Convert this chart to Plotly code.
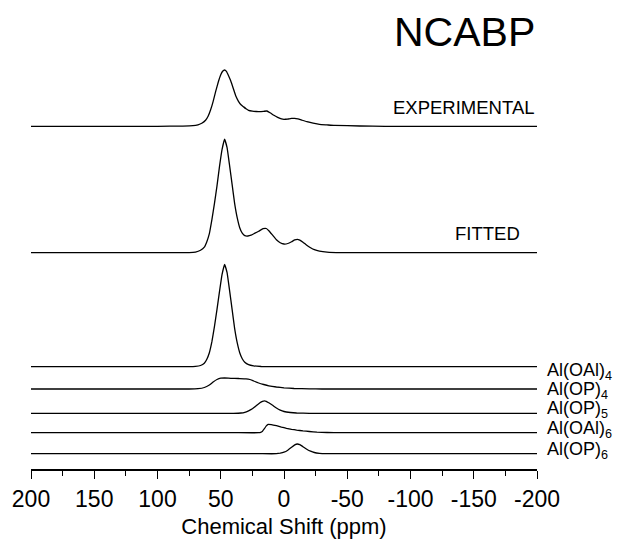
import plotly.graph_objects as go

# ---- data (ppm, intensity in arbitrary units) ----
exp_ppm = [200, 100, 80, 72, 68, 65, 62, 60, 58, 56, 54, 52, 50, 48.5, 47, 45.5, 44, 42, 40, 38, 36, 34, 32, 30, 28, 25, 22, 19, 16, 13.5, 11, 8, 5, 2, 0, -3, -6, -8.5, -11, -14, -18, -23, -28, -34, -40, -60, -80, -200]
exp_int = [0, 0, 0.2, 0.6, 1.5, 3, 6, 10, 16.5, 25, 35, 44, 51.5, 55, 56.3, 55, 51, 45, 37.5, 30, 25, 21.5, 19.5, 17.5, 16, 15.2, 14.8, 14.6, 15, 15.3, 13.5, 11, 9, 7.4, 7, 7.3, 7.9, 8, 7.4, 6.2, 4.6, 3.2, 2, 1.4, 0.9, 0.3, 0, 0]

fit_ppm = [200, 75, 70, 66, 63, 61, 59, 57, 55, 53, 51, 49, 47, 45, 43, 41, 39, 37, 35, 33, 31, 28.5, 26, 23, 20, 16.5, 14, 12, 9, 6, 3, 0, -3, -6, -8.5, -10.5, -12.5, -15, -18, -21, -24, -28, -34, -45, -200]
fit_int = [0, 0, 0.6, 2.5, 5.5, 11, 19, 33, 49, 66.5, 86, 103, 113.5, 105, 87, 68, 49, 35, 25, 19.5, 17, 16.7, 17.5, 19.5, 21.5, 24, 24.2, 22, 17.5, 13, 10, 8.7, 9.2, 11, 12.8, 13.4, 12.6, 10.5, 7.5, 5, 3, 1.5, 0.5, 0, 0]

oal4_ppm = [200, 75, 70, 66, 63, 61, 59, 57, 55, 53, 51, 49, 47, 45, 43, 41, 39, 37, 35, 33, 31, 28, 24, 18, 10, -200]
oal4_int = [0, 0, 0.3, 1.2, 3.5, 7.5, 14, 25, 40, 57, 75, 92, 102.4, 94, 76, 57, 38, 24, 14, 8, 4.5, 2, 0.8, 0.2, 0, 0]

op4_ppm = [200, 75, 68, 63, 59, 56, 53, 50, 47, 42, 36, 30, 27, 24, 20, 16, 12, 6, 0, -8, -20, -30, -200]
op4_int = [0, 0, 0.3, 1.5, 4, 7, 9.5, 10.8, 11, 10.7, 10.5, 10.2, 9.5, 8, 6, 4.5, 3.2, 2, 1.2, 0.5, 0.1, 0, 0]

op5_ppm = [200, 40, 34, 31, 28, 25, 22, 19, 17, 15.5, 14, 12, 9, 6, 3, 0, -5, -10, -20, -200]
op5_int = [0, 0, 0.3, 1, 2.5, 4.5, 7.5, 10.5, 12, 12.5, 12, 10.5, 8, 5.3, 3.2, 1.8, 0.8, 0.3, 0, 0]

oal6_ppm = [200, 40, 20, 18.5, 17, 15.5, 14, 12.5, 10, 6, 2, -2, -6, -10, -15, -20, -26, -34, -45, -200]
oal6_int = [0, 0, 0, 0.3, 1.5, 4, 6.8, 8.4, 8.1, 7, 5.6, 4.4, 3.4, 2.6, 1.8, 1.2, 0.6, 0.2, 0, 0]

op6_ppm = [200, 20, 6, 3, 0, -3, -6, -8.5, -10.5, -12.5, -15, -18, -21, -24, -28, -33, -200]
op6_int = [0, 0, 0, 0.5, 1.5, 3.5, 6.5, 8.8, 9.7, 9, 7, 4.5, 2.5, 1.2, 0.4, 0, 0]

series_names = ["EXPERIMENTAL", "FITTED", "Al(OAl)<sub>4</sub>", "Al(OP)<sub>4</sub>",
                "Al(OP)<sub>5</sub>", "Al(OAl)<sub>6</sub>", "Al(OP)<sub>6</sub>"]
x_ticks = [200, 150, 100, 50, 0, -50, -100, -150, -200]
x_tick_labels = ["200", "150", "100", "50", "0", "-50", "-100", "-150", "-200"]

# ---- layout / styling ----
offsets = [342.7, 216.3, 102.3, 80, 55.7, 36.3, 15.3]
series = [(exp_ppm, exp_int), (fit_ppm, fit_int), (oal4_ppm, oal4_int), (op4_ppm, op4_int),
          (op5_ppm, op5_int), (oal6_ppm, oal6_int), (op6_ppm, op6_int)]

FONT = "Liberation Sans, Arial, sans-serif"

fig = go.Figure()
for (xs, ys), off, name in zip(series, offsets, series_names):
    fig.add_trace(go.Scatter(
        x=xs, y=[v + off for v in ys], mode="lines", name=name,
        line=dict(color="black", width=1.3, shape="spline", smoothing=0.3),
        showlegend=False, hoverinfo="skip"))

annotations = [
    dict(text="NCABP", x=1.0, xref="paper", xanchor="right", y=469 - 32, yref="y",
         yanchor="middle", font=dict(size=41)),
    dict(text="EXPERIMENTAL", x=1.0, xref="paper", xanchor="right", y=469 - 107, yref="y",
         yanchor="middle", font=dict(size=18.5)),
    dict(text="FITTED", x=0.97, xref="paper", xanchor="right", y=469 - 233, yref="y",
         yanchor="middle", font=dict(size=18.5)),
]
label_centers = [371, 390, 409, 429, 450]
for name, cy in zip(series_names[2:], label_centers):
    annotations.append(dict(text=name, x=1.0158, xref="paper", xanchor="left",
                            y=469 - cy, yref="y", yanchor="middle", font=dict(size=18)))
for a in annotations:
    a["showarrow"] = False
    a["font"]["color"] = "black"
    a["font"]["family"] = FONT

fig.update_layout(
    width=617, height=542,
    margin=dict(l=31, r=80, t=0, b=73),
    paper_bgcolor="white", plot_bgcolor="white",
    font=dict(family=FONT, color="black"),
    annotations=annotations,
    xaxis=dict(
        range=[200, -200], autorange=False,
        tickvals=x_ticks, ticktext=x_tick_labels,
        ticks="outside", ticklen=8, tickwidth=1.2, tickcolor="black",
        showline=True, linecolor="black", linewidth=2,
        showgrid=False, zeroline=False,
        tickfont=dict(size=23, family=FONT, color="black"),
        minor=dict(tickvals=[175, 125, 75, 25, -25, -75, -125, -175], ticks="outside",
                   ticklen=5, tickwidth=1.2, tickcolor="black", showgrid=False),
        title=dict(text="Chemical Shift (ppm)", font=dict(size=22, family=FONT, color="black"),
                   standoff=8),
    ),
    yaxis=dict(range=[0, 469], autorange=False, visible=False, showgrid=False, zeroline=False),
)

fig.write_html("out.html")
